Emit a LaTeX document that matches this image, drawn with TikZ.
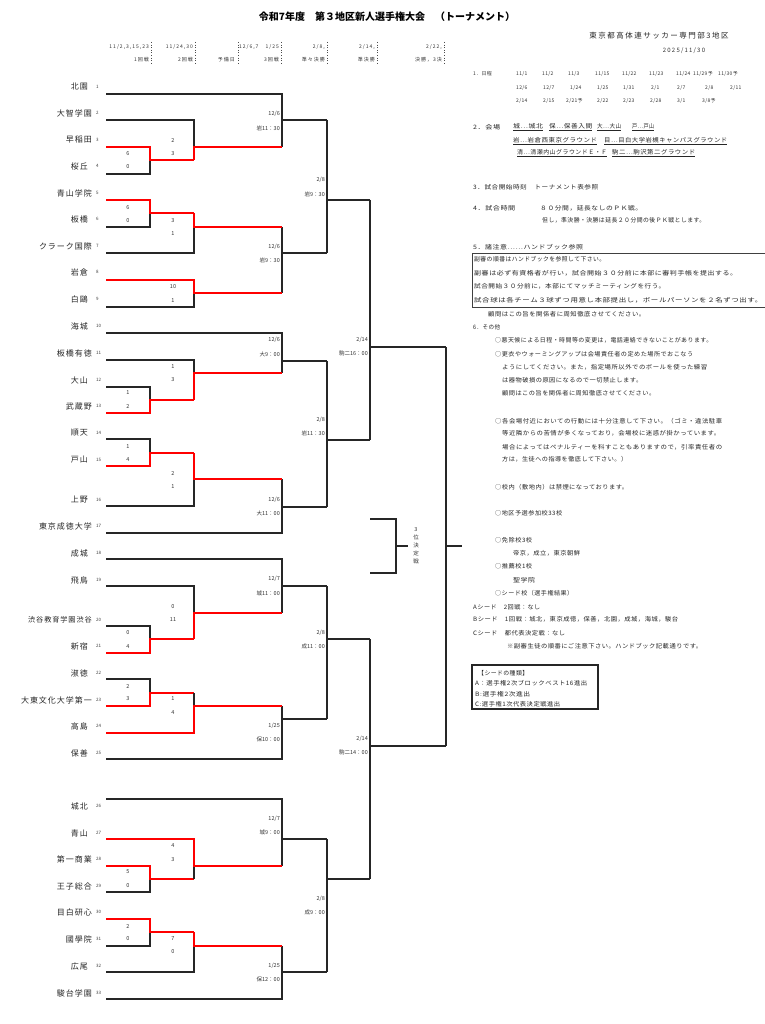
\documentclass[tikz,border=0pt]{standalone}
\usepackage{fontspec}
\usepackage{graphicx}
\setmainfont{Noto Sans CJK JP}
\newfontfamily\nmf{Noto Sans CJK JP}[LetterSpace=12]
\newfontfamily\rtf{Noto Sans CJK JP}[LetterSpace=8]
\newfontfamily\hdf{Noto Sans CJK JP}[LetterSpace=20]
\newfontfamily\dtf{Noto Sans CJK JP}[LetterSpace=6]
\newcounter{rlc}
\newcommand\team[5]{%
 \node[nm,anchor=east] (n#1) at (#5,#3) {#2};
 \node[numf,anchor=west] (k#1) at (96,#3) {#1};
 \coordinate (t#1) at (106,#4);}
\newcommand\mw[4]{\draw[bk] (#2) -| (#3|-#4); \draw[rd] (#1) -| (#3|-#4) -- (#4);}
\newcommand\mo[4]{\draw[bk] (#1) -| (#3|-#4) -- (#4); \draw[bk] (#2) -| (#3|-#4);}
\newcommand\rl[4]{\stepcounter{rlc}\node[rt] (rl\arabic{rlc}) at (#1,#2) {\resizebox{#3pt}{\height}{#4}};}
\newcommand\ml[6]{\node[lab] (#1d) at (#2,#3) {#4}; \node[lab] (#1t) at (#2,#5) {#6};}
\newcommand\sco[6]{\node[sc] (#1u) at (#2,#3) {#4}; \node[sc] (#1l) at (#2,#5) {#6};}
\begin{document}
\begin{tikzpicture}[x=1pt,y=-1pt,
 bk/.style={draw=black!85,line width=1.1pt},
 rd/.style={draw=red,line width=1.6pt},
 nm/.style={font=\nmf\fontsize{8}{9}\selectfont,inner sep=0pt,text=black!85},
 numf/.style={font=\fontsize{4.5}{5}\selectfont,inner sep=0pt,text=black!75},
 sc/.style={font=\fontsize{5.5}{6}\selectfont,inner sep=0pt,text=black!80},
 lab/.style={font=\fontsize{5.5}{6}\selectfont,inner sep=0pt,text=black!80,anchor=east},
 rt/.style={font=\rtf\fontsize{6}{7}\selectfont,inner sep=0pt,text=black!85,anchor=west},
 hd/.style={font=\hdf\fontsize{5}{6}\selectfont,inner sep=0pt,text=black!80,anchor=east},
 dt/.style={font=\dtf\fontsize{5}{6}\selectfont,inner sep=0pt,text=black!80,anchor=west},
 dl/.style={draw=black!70,line width=0.6pt,dotted}]
\useasboundingbox (0,0) rectangle (764,1024);
\fill[white] (0,0) rectangle (764,1024);

% title
\node[font=\bfseries\fontsize{10}{10}\selectfont,inner sep=0pt] (title) at (387,17) {令和7年度　第３地区新人選手権大会　（トーナメント）};

% column headers
\foreach \x in {151,195,238,281,327,377,444} \draw[dl] (\x,42) -- (\x,65);
\node[hd] (h1a) at (149,47) {11/2,3,15,23};
\node[hd] (h1b) at (149,60) {1回戦};
\node[hd] (h2a) at (193,47) {11/24,30};
\node[hd] (h2b) at (193,60) {2回戦};
\node[hd] (h3b) at (235,60) {予備日};
\node[hd] (h4a) at (279,47) {12/6,7　1/25};
\node[hd] (h4b) at (279,60) {3回戦};
\node[hd] (h5a) at (325,47) {2/8,};
\node[hd] (h5b) at (325,60) {準々決勝};
\node[hd] (h6a) at (375,47) {2/14,};
\node[hd] (h6b) at (375,60) {準決勝};
\node[hd] (h7a) at (442,47) {2/22,};
\node[hd] (h7b) at (442,60) {決勝，3決};

% columns
\coordinate (c1) at (150,0);
\coordinate (c2) at (194,0);
\coordinate (c3) at (282,0);
\coordinate (c4) at (327,0);
\coordinate (c5) at (370,0);
\coordinate (c6) at (446,0);
\coordinate (c7) at (396,0);

% teams
\team{1}{北園}{87}{94}{88}
\team{2}{大智学園}{113}{120}{92}
\team{3}{早稲田}{140}{147}{92}
\team{4}{桜丘}{166}{174}{88}
\team{5}{青山学院}{193}{200}{92}
\team{6}{板橋}{219}{227}{88}
\team{7}{クラーク国際}{246}{253}{92}
\team{8}{岩倉}{272}{280}{88}
\team{9}{白鷗}{299}{307}{88}
\team{10}{海城}{326}{333}{88}
\team{11}{板橋有徳}{353}{360}{92}
\team{12}{大山}{380}{387}{88}
\team{13}{武蔵野}{406}{413}{92}
\team{14}{順天}{433}{439}{88}
\team{15}{戸山}{460}{466}{88}
\team{16}{上野}{500}{506}{88}
\team{17}{東京成徳大学}{526}{533}{92}
\team{18}{成城}{553}{559}{88}
\team{19}{飛鳥}{580}{586}{88}
\team{20}{{\fontsize{7.2}{8}\selectfont 渋谷教育学園渋谷}}{620}{626}{92}
\team{21}{新宿}{646}{653}{88}
\team{22}{淑徳}{673}{679}{88}
\team{23}{大東文化大学第一}{700}{706}{92}
\team{24}{高島}{726}{733}{88}
\team{25}{保善}{753}{759}{88}
\team{26}{城北}{806}{799}{88}
\team{27}{青山}{833}{839}{88}
\team{28}{第一商業}{859}{866}{92}
\team{29}{王子総合}{886}{892}{92}
\team{30}{目白研心}{912}{919}{92}
\team{31}{國學院}{939}{946}{92}
\team{32}{広尾}{966}{972}{88}
\team{33}{駿台学園}{993}{999}{92}

% match output points
\coordinate (A1) at (194,160); \coordinate (A2) at (194,213);
\coordinate (A3) at (194,400); \coordinate (A4) at (194,453);
\coordinate (A5) at (194,639); \coordinate (A6) at (194,693);
\coordinate (A7) at (194,879); \coordinate (A8) at (194,932);
\coordinate (B1) at (282,147); \coordinate (B2) at (282,227);
\coordinate (B3) at (282,293); \coordinate (B4) at (282,373);
\coordinate (B5) at (282,479); \coordinate (B6) at (282,613);
\coordinate (B7) at (282,706); \coordinate (B8) at (282,866);
\coordinate (B9) at (282,946);
\coordinate (C1) at (327,120); \coordinate (C2) at (327,253);
\coordinate (C3) at (327,361); \coordinate (C4) at (327,507);
\coordinate (C5) at (327,586); \coordinate (C6) at (327,719);
\coordinate (C7) at (327,839); \coordinate (C8) at (327,972);
\coordinate (D1) at (370,200); \coordinate (D2) at (370,440);
\coordinate (D3) at (370,639); \coordinate (D4) at (370,879);
\coordinate (E1) at (446,347); \coordinate (E2) at (446,746);
\coordinate (F) at (462,546);
\coordinate (P1) at (370,519); \coordinate (P2) at (370,573);
\coordinate (Q) at (408,546);

% round 3 and later (unplayed)
\mo{t1}{B1}{c3}{C1}
\mo{B2}{B3}{c3}{C2}
\mo{t10}{B4}{c3}{C3}
\mo{B5}{t17}{c3}{C4}
\mo{t18}{B6}{c3}{C5}
\mo{B7}{t25}{c3}{C6}
\mo{t26}{B8}{c3}{C7}
\mo{B9}{t33}{c3}{C8}
\mo{C1}{C2}{c4}{D1}
\mo{C3}{C4}{c4}{D2}
\mo{C5}{C6}{c4}{D3}
\mo{C7}{C8}{c4}{D4}
\mo{D1}{D2}{c5}{E1}
\mo{D3}{D4}{c5}{E2}
\mo{E1}{E2}{c6}{F}
\mo{P1}{P2}{c7}{Q}

% round 1
\mw{t3}{t4}{c1}{A1}
\mw{t5}{t6}{c1}{A2}
\mw{t13}{t12}{c1}{A3}
\mw{t15}{t14}{c1}{A4}
\mw{t21}{t20}{c1}{A5}
\mw{t23}{t22}{c1}{A6}
\mw{t28}{t29}{c1}{A7}
\mw{t30}{t31}{c1}{A8}
% round 2
\mw{A1}{t2}{c2}{B1}
\mw{A2}{t7}{c2}{B2}
\mw{t8}{t9}{c2}{B3}
\mw{A3}{t11}{c2}{B4}
\mw{A4}{t16}{c2}{B5}
\mw{A5}{t19}{c2}{B6}
\mw{t24}{A6}{c2}{B7}
\mw{t27}{A7}{c2}{B8}
\mw{A8}{t32}{c2}{B9}

% scores round 1
\sco{sa1}{128}{154}{6}{167}{0}
\sco{sa2}{128}{208}{6}{221}{0}
\sco{sa3}{128}{393}{1}{407}{2}
\sco{sa4}{128}{447}{1}{460}{4}
\sco{sa5}{128}{633}{0}{647}{4}
\sco{sa6}{128}{686}{2}{699}{3}
\sco{sa7}{128}{872}{5}{886}{0}
\sco{sa8}{128}{926}{2}{939}{0}
% scores round 2
\sco{sb1}{173}{141}{2}{154}{3}
\sco{sb2}{173}{221}{3}{234}{1}
\sco{sb3}{173}{287}{10}{301}{1}
\sco{sb4}{173}{367}{1}{380}{3}
\sco{sb5}{173}{473}{2}{487}{1}
\sco{sb6}{173}{607}{0}{620}{11}
\sco{sb7}{173}{699}{1}{713}{4}
\sco{sb8}{173}{846}{4}{860}{3}
\sco{sb9}{173}{939}{7}{952}{0}

% match labels
\ml{l1}{280}{114}{12/6}{128}{岩11：30}
\ml{l2}{280}{247}{12/6}{260}{岩9：30}
\ml{l3}{280}{340}{12/6}{354}{大9：00}
\ml{l4}{280}{500}{12/6}{513}{大11：00}
\ml{l5}{280}{579}{12/7}{593}{城11：00}
\ml{l6}{280}{726}{1/25}{739}{保10：00}
\ml{l7}{280}{819}{12/7}{832}{城9：00}
\ml{l8}{280}{966}{1/25}{979}{保12：00}
\ml{q1}{325}{180}{2/8}{194}{岩9：30}
\ml{q2}{325}{420}{2/8}{433}{岩11：30}
\ml{q3}{325}{633}{2/8}{646}{成11：00}
\ml{q4}{325}{899}{2/8}{912}{成9：00}
\ml{s1}{368}{340}{2/14}{353}{駒二16：00}
\ml{s2}{368}{739}{2/14}{752}{駒二14：00}
\node[font=\fontsize{5.5}{8}\selectfont,align=center,inner sep=0pt,text=black!80] (tp) at (416,546) {3\\位\\決\\定\\戦};

% right header
\node[font=\hdf\fontsize{7.5}{8}\selectfont,inner sep=0pt,text=black!85] (org) at (659,36) {東京都高体連サッカー専門部3地区};
\node[font=\hdf\fontsize{6}{7}\selectfont,inner sep=0pt,text=black!80] (date) at (684,51) {2025/11/30};

% 1. schedule
\node[dt] (s0) at (473,74) {1．日程};
\node[dt] at (516,74) {11/1}; \node[dt] at (542,74) {11/2}; \node[dt] at (568,74) {11/3};
\node[dt] at (595,74) {11/15}; \node[dt] at (622,74) {11/22}; \node[dt] at (649,74) {11/23};
\node[dt] at (676,74) {11/24}; \node[dt] at (693,74) {11/29予}; \node[dt] at (718,74) {11/30予};
\node[dt] at (516,88) {12/6}; \node[dt] at (543,88) {12/7}; \node[dt] at (570,88) {1/24};
\node[dt] at (597,88) {1/25}; \node[dt] at (623,88) {1/31}; \node[dt] at (651,88) {2/1};
\node[dt] at (677,88) {2/7}; \node[dt] at (705,88) {2/8}; \node[dt] at (730,88) {2/11};
\node[dt] at (516,101) {2/14}; \node[dt] at (543,101) {2/15}; \node[dt] at (566,101) {2/21予};
\node[dt] at (597,101) {2/22}; \node[dt] at (623,101) {2/23}; \node[dt] at (650,101) {2/28};
\node[dt] at (677,101) {3/1}; \node[dt] at (702,101) {3/8予};

% 2. venues
\rl{473}{127}{27}{2．会場}
\rl{513}{127}{30}{\underline{城…城北}}
\rl{549}{127}{43}{\underline{保…保善入間}}
\rl{597}{127}{24}{\underline{大…大山}}
\rl{632}{127}{22}{\underline{戸…戸山}}
\rl{513}{141}{84}{\underline{岩…岩倉西東京グラウンド}}
\rl{604}{141}{123}{\underline{目…目白大学岩槻キャンパスグラウンド}}
\rl{517}{153}{90}{\underline{清…清瀬内山グラウンドＥ・Ｆ}}
\rl{612}{153}{83}{\underline{駒二…駒沢第二グラウンド}}

\rl{473}{187}{125}{3．試合開始時刻　トーナメント表参照}
\rl{473}{208}{42}{4．試合時間}
\rl{540}{208}{102}{８０分間，延長なしのＰＫ戦。}
\rl{542}{220}{163}{但し，準決勝・決勝は延長２０分間の後ＰＫ戦とします。}
\rl{473}{247}{110}{5．諸注意……ハンドブック参照}
\draw[draw=black!75,line width=1pt] (472,253) rectangle (766,307);
\rl{474}{259}{131}{副審の順番はハンドブックを参照して下さい。}
\rl{474}{273}{263}{副審は必ず有資格者が行い，試合開始３０分前に本部に審判手帳を提出する。}
\rl{474}{286}{191}{試合開始３０分前に，本部にてマッチミーティングを行う。}
\rl{474}{300}{288}{試合球は各チーム３球ずつ用意し本部提出し，ボールパーソンを２名ずつ出す。}
\rl{488}{314}{157}{顧問はこの旨を関係者に周知徹底させてください。}
\rl{473}{327}{27}{6．その他}
\rl{495}{340}{217}{○悪天候による日程・時間等の変更は，電話連絡できないことがあります。}
\rl{495}{354}{198}{○更衣やウォーミングアップは会場責任者の定めた場所でおこなう}
\rl{502}{367}{205}{ようにしてください。また，指定場所以外でのボールを使った練習}
\rl{502}{380}{140}{は器物破損の原因になるので一切禁止します。}
\rl{502}{393}{153}{顧問はこの旨を関係者に周知徹底させてください。}
\rl{495}{421}{227}{○各会場付近においての行動には十分注意して下さい。（ゴミ・違法駐車}
\rl{502}{433}{218}{等近隣からの苦情が多くなっており，会場校に迷惑が掛かっています。}
\rl{502}{447}{220}{場合によってはペナルティーを科すこともありますので，引率責任者の}
\rl{502}{459}{125}{方は，生徒への指導を徹底して下さい。）}
\rl{495}{487}{133}{○校内（敷地内）は禁煙になっております。}
\rl{495}{513}{67}{○地区予選参加校33校}
\rl{495}{540}{37}{○免除校3校}
\rl{513}{553}{67}{帝京，成立，東京朝鮮}
\rl{495}{566}{37}{○推薦校1校}
\rl{513}{580}{22}{聖学院}
\rl{495}{593}{78}{○シード校（選手権結果）}
\rl{473}{607}{67}{Aシード　2回戦：なし}
\rl{473}{619}{205}{Bシード　1回戦：城北，東京成徳，保善，北園，成城，海城，駿台}
\rl{473}{633}{92}{Cシード　都代表決定戦：なし}
\rl{507}{646}{195}{※副審生徒の順番にご注意下さい。ハンドブック記載通りです。}
\draw[draw=black!85,line width=1.5pt] (472,665) rectangle (598,709);
\rl{478}{673}{50}{【シードの種類】}
\rl{475}{683}{112}{A：選手権2次ブロックベスト16進出}
\rl{475}{694}{55}{B:選手権2次進出}
\rl{475}{704}{85}{C:選手権1次代表決定戦進出}
\end{tikzpicture}
\end{document}
